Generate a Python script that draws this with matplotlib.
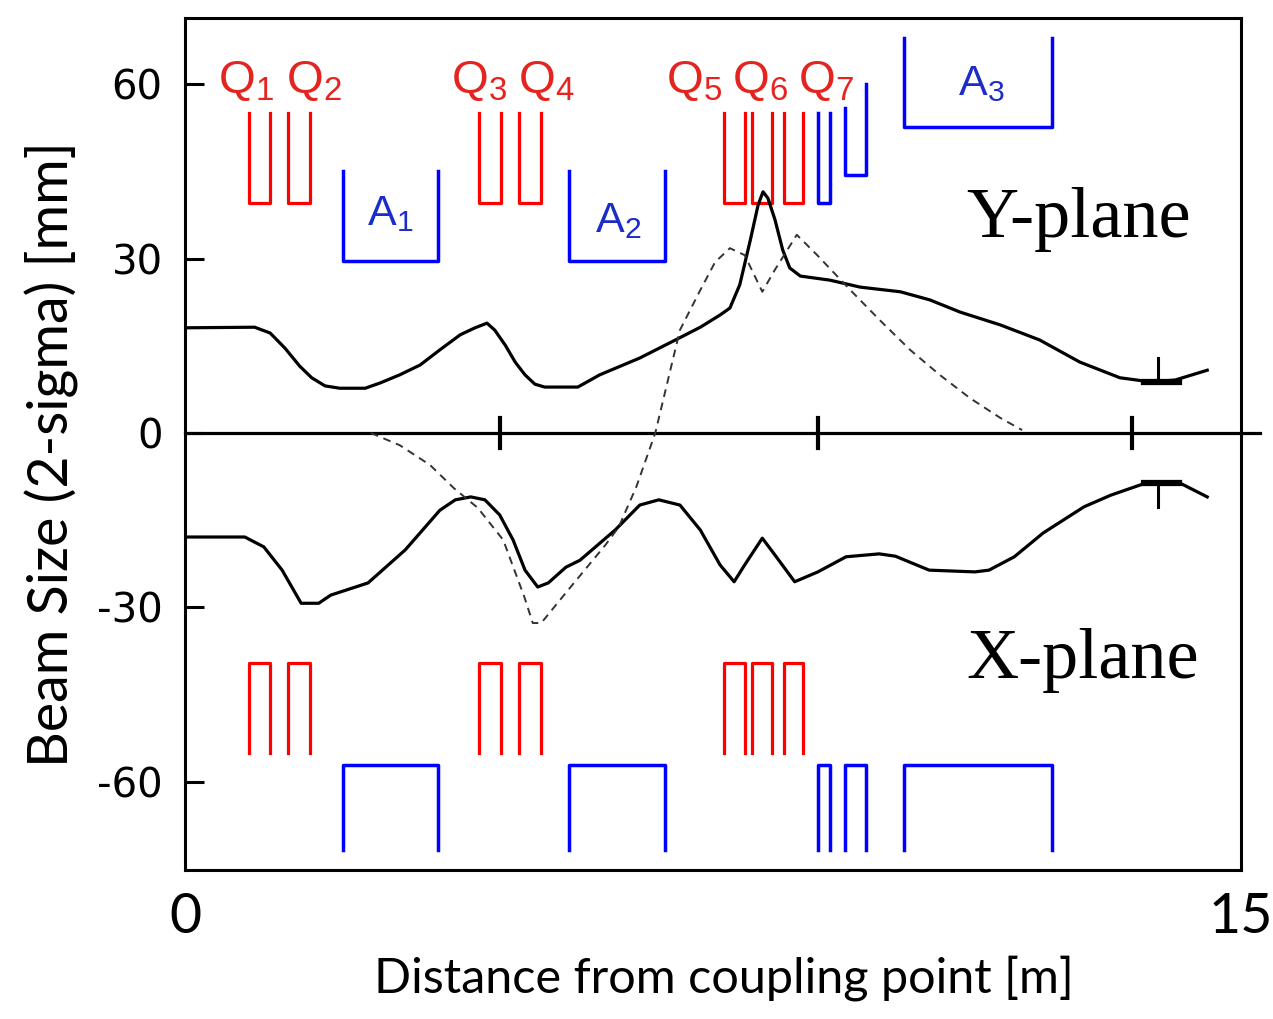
import matplotlib
matplotlib.use("Agg")
import matplotlib.pyplot as plt

plt.rcParams['mathtext.fontset'] = 'custom'
plt.rcParams['mathtext.rm'] = 'Liberation Sans'
plt.rcParams['mathtext.default'] = 'regular'

# Y-plane beam size (solid, top)
y_s = [0, 0.99, 1.21, 1.42, 1.63, 1.80, 1.99, 2.20, 2.56, 2.77, 3.05, 3.34, 3.62, 3.91,
       4.12, 4.29, 4.40, 4.55, 4.69, 4.83, 4.97, 5.11, 5.58, 5.89, 6.46, 7.03, 7.32, 7.60,
       7.74, 7.88, 8.03, 8.14, 8.21, 8.28, 8.38, 8.49, 8.59, 8.74, 9.16, 9.59, 10.16,
       10.58, 11.01, 11.58, 12.14, 12.71, 13.28, 13.71, 14.06, 14.52]
y_beam = [18.1, 18.2, 17.2, 14.6, 11.5, 9.5, 8.1, 7.7, 7.7, 8.6, 10.0, 11.7, 14.3, 16.9,
          18.1, 18.9, 17.7, 15.1, 12.2, 10.0, 8.4, 7.9, 7.9, 10.0, 12.9, 16.4, 18.2, 20.3,
          21.5, 25.5, 33.2, 39.2, 41.5, 40.4, 36.7, 31.5, 28.4, 27.0, 26.3, 25.1, 24.3,
          22.9, 20.8, 18.6, 16.0, 12.2, 9.5, 8.8, 9.1, 10.8]

# X-plane beam size (solid, bottom)
x_s = [0, 0.85, 1.12, 1.38, 1.65, 1.90, 2.07, 2.60, 3.13, 3.62, 3.84, 4.06, 4.26, 4.47,
       4.66, 4.83, 5.01, 5.16, 5.41, 5.61, 6.11, 6.46, 6.73, 7.03, 7.32, 7.60, 7.80, 7.95,
       8.20, 8.38, 8.66, 8.99, 9.39, 9.86, 10.09, 10.57, 11.22, 11.42, 11.78, 12.19,
       12.77, 13.15, 13.65, 14.13, 14.52]
x_beam = [-17.9, -17.9, -19.6, -23.6, -29.3, -29.3, -27.9, -25.8, -20.1, -13.3, -11.5,
          -11.0, -11.5, -14.1, -18.4, -23.6, -26.5, -25.8, -23.1, -21.9, -16.7, -12.4,
          -11.5, -12.4, -16.7, -22.7, -25.6, -22.7, -18.1, -21.0, -25.6, -23.9, -21.3,
          -20.8, -21.2, -23.6, -23.9, -23.6, -21.3, -17.2, -12.7, -10.7, -8.6, -8.6, -11.0]

# dashed trajectory
d_s = [2.64, 3.05, 3.48, 3.82, 4.16, 4.52, 4.82, 4.94, 5.06, 5.41, 5.97, 6.16, 6.41, 6.68,
       7.03, 7.32, 7.53, 7.74, 7.95, 8.20, 8.38, 8.69, 8.98, 9.45, 9.87, 10.30, 10.72,
       11.15, 11.58, 11.89]
d_val = [0, -2.1, -5.5, -9.5, -12.9, -18.4, -28.2, -32.7, -32.7, -27.5, -19.3, -16.2,
         -9.3, 0, 17.7, 24.6, 29.4, 31.8, 30.6, 24.3, 28.1, 34.1, 30.6, 24.6, 19.4, 14.3,
         10.0, 6.0, 2.6, 0.5]

# magnets
quad_names = ['Q$_1$', 'Q$_2$', 'Q$_3$', 'Q$_4$', 'Q$_5$', 'Q$_6$', 'Q$_7$']
quad_x0 = [0.91, 1.46, 4.18, 4.74, 7.66, 8.05, 8.51]
quad_x1 = [1.21, 1.78, 4.49, 5.06, 7.95, 8.34, 8.78]
quad_label_x = [0.87, 1.83, 4.18, 5.13, 7.23, 8.17, 9.10]

abs_names = ['A$_1$', 'A$_2$', 'A$_3$']
abs_x0 = [2.24, 5.45, 10.21]
abs_x1 = [3.59, 6.82, 12.32]
abs_top_open = [45.0, 45.0, 68.0]
abs_top_base = [29.6, 29.6, 52.7]
abs_label_x = [2.91, 6.16, 11.31]
abs_label_y = [35.8, 34.6, 58.2]

bq_x0 = [8.99, 9.38]
bq_x1 = [9.16, 9.67]
bq_top_open = [55.1, 56.0]
bq_top_base = [39.6, 44.4]

zero_ticks = [4.47, 8.99, 13.45]
marker_x = 13.82

red = '#ff0000'
blue = '#0000ff'

fig = plt.figure(figsize=(12.73, 10.19), dpi=100)
ax = fig.add_axes([0.1453, 0.1462, 0.8296, 0.8361])

# quadrupoles (red)
for i in range(len(quad_x0)):
    a, b = quad_x0[i], quad_x1[i]
    ax.plot([a, a, b, b], [55.1, 39.6, 39.6, 55.1], color=red, lw=2.3)
    ax.plot([a, a, b, b], [-55.0, -39.6, -39.6, -55.0], color=red, lw=2.3)
    ax.text(quad_label_x[i], 58.5, quad_names[i], color='#e52420', fontsize=34,
            fontfamily='Liberation Sans', ha='center', va='baseline')

# absorbers (blue)
for i in range(len(abs_x0)):
    a, b = abs_x0[i], abs_x1[i]
    ax.plot([a, a, b, b], [abs_top_open[i], abs_top_base[i], abs_top_base[i], abs_top_open[i]],
            color=blue, lw=2.5)
    ax.plot([a, a, b, b], [-71.8, -57.1, -57.1, -71.8], color=blue, lw=2.5)
    ax.text(abs_label_x[i], abs_label_y[i], abs_names[i], color='#1c2cc8', fontsize=31,
            fontfamily='Liberation Sans', ha='center', va='baseline')

for i in range(len(bq_x0)):
    a, b = bq_x0[i], bq_x1[i]
    top_r = 60.1 if i == 1 else bq_top_open[i]
    ax.plot([a, a, b, b], [bq_top_open[i], bq_top_base[i], bq_top_base[i], top_r],
            color=blue, lw=2.5)
    ax.plot([a, a, b, b], [-71.8, -57.1, -57.1, -71.8], color=blue, lw=2.5)

# zero line with ticks
ax.plot([0, 15.27], [0, 0], color='black', lw=2.3, clip_on=False)
for t in zero_ticks:
    ax.plot([t, t], [-2.6, 2.6], color='black', lw=3)

# beam envelopes
ax.plot(y_s, y_beam, color='black', lw=2.3, solid_joinstyle='round')
ax.plot(x_s, x_beam, color='black', lw=2.3, solid_joinstyle='round')
ax.plot(d_s, d_val, color='#333333', lw=1.4, dashes=(4, 3))

# T markers
ax.plot([marker_x, marker_x], [12.9, 8.8], color='black', lw=2.2)
ax.plot([marker_x - 0.2, marker_x + 0.3], [8.8, 8.8], color='black', lw=4.5)
ax.plot([marker_x, marker_x], [-12.7, -8.6], color='black', lw=2.2)
ax.plot([marker_x - 0.2, marker_x + 0.3], [-8.6, -8.6], color='black', lw=4.5)

ax.text(11.10, 33.7, 'Y-plane', fontsize=52, fontfamily='Liberation Serif',
        ha='left', va='baseline')
ax.text(11.10, -42.2, 'X-plane', fontsize=52, fontfamily='Liberation Serif',
        ha='left', va='baseline')

ax.set_xlim(0, 15)
ax.set_ylim(-75.2, 71.4)
ax.set_yticks([60, 30, 0, -30, -60])
ax.set_yticklabels(['60', '30', '0', '-30', '-60'], fontfamily='DejaVu Sans', fontsize=29)
ax.set_xticks([0, 15])
ax.set_xticklabels(['0', '15'], fontfamily='Lato', fontsize=40)
ax.tick_params(axis='y', direction='in', length=14, width=2.2, pad=16)
ax.tick_params(axis='x', length=0, pad=16)
for sp in ax.spines.values():
    sp.set_linewidth(2.2)

ax.set_xlabel('Distance from coupling point [m]', fontfamily='Lato', fontsize=35)
ax.xaxis.set_label_coords(0.51, -0.10)
ax.set_ylabel('Beam Size (2-sigma) [mm]', fontfamily='Lato', fontsize=40)
ax.yaxis.set_label_coords(-0.100, 0.488)

fig.savefig('out.png', dpi=100)
